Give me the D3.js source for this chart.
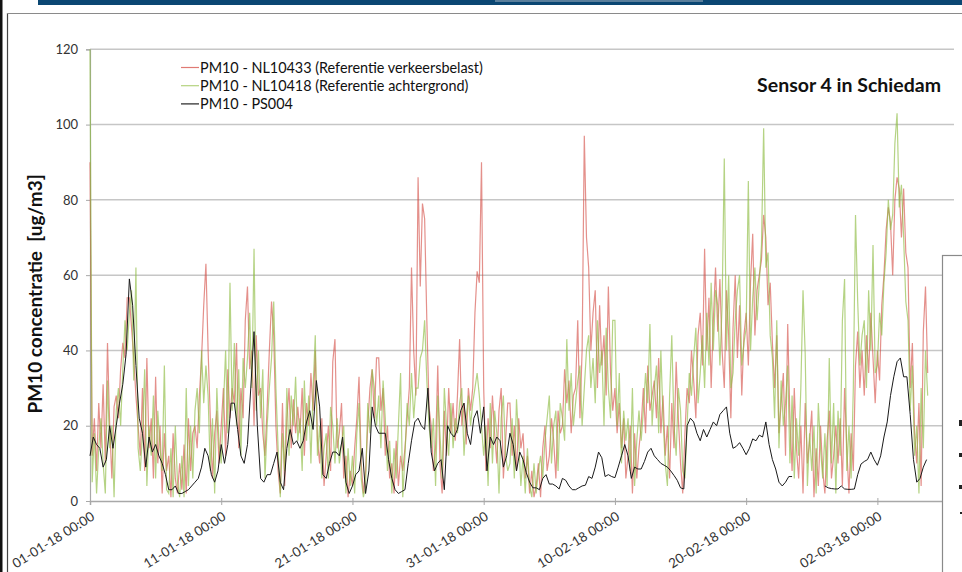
<!DOCTYPE html>
<html><head><meta charset="utf-8">
<script src="https://cdn.jsdelivr.net/npm/d3@7"></script>
<style>body{margin:0;background:#fff;} svg{display:block;}</style>
</head><body><svg id="c" width="962" height="572"></svg>
<script>
const startDate = new Date(2018, 0, 1);
const endDate = new Date(2018, 2, 7);
const refStepHours = 4;
const sensorStepHours = 6;
const tickDays = [0, 10, 20, 30, 40, 50, 60];
const yTicks = [0, 20, 40, 60, 80, 100, 120];
const seriesNames = ["PM10 - NL10433 (Referentie verkeersbelast)", "PM10 - NL10418 (Referentie achtergrond)", "PM10 - PS004"];
const chartTitle = "Sensor 4 in Schiedam";
const yTitle = "PM10 concentratie  [ug/m3]";

// PM10 - NL10433 (4-hourly)
const nl10433 = [
90,12,22,8,26,14, 31,10,42,20,6,25, 28,22,35,42,38,54, 54,46,38,28,20,12,
30,8,38,14,22,6, 33,10,20,2,18,8, 12,1,18,6,2,10, 3,15,2,22,8,18,
20,14,28,38,52,63, 40,22,6,18,24,10, 20,30,12,35,22,30, 26,42,14,30,22,48,
57,35,40,20,44,28, 30,18,12,25,40,53, 44,20,8,2,26,4, 22,30,14,27,18,25,
18,30,12,26,20,34, 24,40,16,10,22,4, 12,20,8,37,43,14, 18,26,6,12,1,8,
4,14,22,33,10,2, 8,20,30,35,22,38, 38,24,30,12,20,6, 10,2,16,4,12,8,
14,22,30,62,40,28, 86,57,79,75,48,25, 20,8,14,36,10,2, 24,12,30,18,26,16,
28,43,20,26,15,30, 24,30,50,61,58,90, 30,8,22,14,28,18, 10,24,30,6,16,26,
26,12,20,8,22,14, 18,6,12,2,8,1, 4,10,1,14,20,8, 12,22,16,6,24,18,
20,35,26,32,18,28, 30,48,22,40,97,70, 62,40,50,56,30,52, 36,44,28,57,34,24,
30,18,26,14,22,6, 12,20,2,18,6,14, 20,30,18,36,24,28, 32,22,38,18,28,12,
20,6,26,14,37,22, 10,2,18,30,26,40, 32,22,44,50,36,67, 40,54,30,48,62,45,
59,40,30,56,44,22, 46,60,38,52,28,44, 50,36,58,71,44,56, 60,64,76,70,52,58,
42,30,44,18,26,34, 12,47,22,8,30,14, 6,20,2,26,10,16, 24,1,14,4,20,8,
2,16,24,6,12,20, 10,22,4,30,14,2, 18,8,36,45,30,40, 28,44,34,50,38,26,
40,32,52,60,72,78, 74,60,80,86,83,70, 83,66,62,30,42,18, 10,26,4,45,57,34
];

// PM10 - NL10418 (4-hourly)
const nl10418 = [
120,5,18,2,14,22, 10,2,32,14,20,1, 24,30,20,35,48,40, 50,56,32,62,14,8,
18,35,4,20,12,28, 6,24,14,8,36,3, 2,14,1,20,5,1, 12,1,30,4,20,6,
24,30,18,40,26,36, 28,8,22,2,30,15, 10,25,40,18,58,24, 42,20,35,12,38,30,
38,50,30,67,24,40, 22,35,6,20,30,38, 53,30,14,1,18,8, 30,12,28,20,33,16,
22,8,32,16,28,10, 30,44,12,20,6,14, 18,6,25,20,10,22, 10,15,20,2,14,4,
12,2,18,26,6,1, 4,26,18,35,30,20, 28,14,32,22,8,16, 2,14,6,20,34,1,
12,26,20,34,22,30, 30,38,40,48,32,20, 14,22,4,28,18,6, 30,20,12,26,14,22,
18,26,30,12,22,28, 20,26,30,34,28,20, 12,20,4,26,10,24, 18,2,22,28,12,8,
10,22,6,27,16,4, 12,2,14,4,1,10, 2,8,12,6,16,22, 28,10,20,24,8,26,
22,16,43,24,34,20, 26,32,36,20,30,40, 44,30,38,26,48,34, 40,20,46,30,22,48,
48,20,34,10,24,16, 22,8,30,4,16,24, 16,24,34,26,47,20, 30,36,18,40,22,10,
4,28,44,20,12,30, 24,8,6,20,34,28, 38,46,26,34,44,30, 50,36,58,40,56,52,
36,52,91,40,60,30, 34,48,56,60,36,42, 46,85,40,54,62,48, 58,68,99,62,66,44,
38,22,48,14,32,20, 26,36,10,28,6,22, 12,30,56,39,4,18, 8,20,2,26,14,6,
18,4,38,10,26,2, 24,12,48,59,8,20, 6,30,76,53,36,44, 48,30,56,40,68,34,
36,50,44,58,66,80, 72,76,95,103,78,84, 70,53,48,24,36,12, 20,2,30,14,40,28
];

// PM10 - PS004 (6-hourly, null = missing)
const ps004 = [
12,17,15,14,9,11,20,14,20,26,31,39,59,52,36,22,
18,9,17,13,15,12,10,7,3,3,4,2,2,2.5,3,4,
5,6,9,14,12,7,5,8,15,10,15,26,26,19,12,10,
15,30,45,20,6,5,7,7,10,13,5,3,14,19,15,16,
14,16,21,24,19,32,25,7,6,10,13,13,12,17,5,2,
4,7,8,14,2,8,25,20,18,18,18,11,6,3,2,2.5,
3,10,16,21,22,20,19,30,13,8,10,11,3,20,18,17,
19,24,26,18,15,22,24,18,25,8,17,15,17,16,9,12,
18,15,8,13,11,7.5,5,3.5,3.5,3,6,7,4.5,4.5,4,3.2,
6,5.5,4,3,3,3.5,4,4.2,6.5,6,9,13,11.5,6.5,7,6.5,
6.2,9,12,15,12,6,9,8.5,8.5,10.5,13,14,12,11,10,9.5,
9,8,6.8,5.5,3.5,3.2,20,22,21,18,16,19,17,19,21,20,
23,24,25,18,14,14.5,15.5,14,12.3,14,16.5,16,17.5,17,21,15,
11,8.5,5,4,5,6.5,6.5,null,null,null,null,null,null,null,null,null,
4,3.5,3.3,3.2,3.2,4,3.2,3.1,3.1,3.2,7,9.8,10.5,11,13,11,
9.5,12,17,21,28,33,37,38,33,33,23,11,5,6,9,11
];

const svg = d3.select("#c");
const FONT = "Lato, 'Open Sans', sans-serif";

// slide frame decorations
svg.append("rect").attr("x", 38).attr("y", 0).attr("width", 924).attr("height", 5).attr("fill", "#0b4773");
svg.append("rect").attr("x", 495).attr("y", 0).attr("width", 208).attr("height", 2).attr("fill", "#5a7f9c");
svg.append("rect").attr("x", 0).attr("y", 0).attr("width", 2.5).attr("height", 572).attr("fill", "#111");
svg.append("line").attr("x1", 7.5).attr("x2", 7.5).attr("y1", 13).attr("y2", 572).attr("stroke", "#444").attr("stroke-width", 1.2);
svg.append("line").attr("x1", 7).attr("x2", 962).attr("y1", 13.5).attr("y2", 13.5).attr("stroke", "#8a8a8a").attr("stroke-width", 1.2);

const x = d3.scaleTime().domain([startDate, endDate]).range([90, 943]);
const y = d3.scaleLinear().domain([0, 120]).range([501, 49.3]);

// gridlines
svg.append("g").selectAll("line").data(yTicks.filter(d => d > 0)).join("line")
  .attr("x1", 90).attr("x2", 954).attr("y1", d => y(d)).attr("y2", d => y(d))
  .attr("stroke", "#c6c6c6").attr("stroke-width", 1.5);

// axes
const yAxis = svg.append("g").attr("transform", "translate(90,0)")
  .call(d3.axisLeft(y).tickValues(yTicks).tickSize(4).tickPadding(8));
yAxis.select(".domain").attr("stroke", "#a8a8a8").attr("stroke-width", 1.2);
yAxis.selectAll(".tick line").attr("stroke", "#a8a8a8");
yAxis.selectAll("text").attr("font-family", FONT).attr("font-size", 13).attr("fill", "#333");

const fmt = d3.timeFormat("%d-%m-%y %H:%M");
const xAxis = svg.append("g").attr("transform", "translate(0,501)")
  .call(d3.axisBottom(x).tickValues(tickDays.map(d => d3.timeDay.offset(startDate, d))).tickSize(4).tickFormat(fmt));
xAxis.select(".domain").attr("stroke", "#a8a8a8").attr("stroke-width", 1.5);
xAxis.selectAll(".tick line").attr("stroke", "#a8a8a8").attr("y1", -3);
xAxis.selectAll("text").attr("font-family", FONT).attr("font-size", 13.3).attr("fill", "#333")
  .attr("text-anchor", "end").attr("x", 0).attr("y", 0).attr("dy", 0)
  .attr("transform", "translate(5,18) rotate(-32)");

// series
const toPts = (arr, step) => arr.map((v, i) => ({ date: d3.timeHour.offset(startDate, i * step), v }));
const line = d3.line().defined(d => d.v != null).x(d => x(d.date)).y(d => y(d.v));

svg.append("path").datum(toPts(nl10433, refStepHours)).attr("d", line)
  .attr("fill", "none").attr("stroke", "#d2463e").attr("stroke-opacity", 0.6).attr("stroke-width", 1.2);
svg.append("path").datum(toPts(nl10418, refStepHours)).attr("d", line)
  .attr("fill", "none").attr("stroke", "#8fbc45").attr("stroke-opacity", 0.66).attr("stroke-width", 1.2);
svg.append("path").datum(toPts(ps004, sensorStepHours)).attr("d", line)
  .attr("fill", "none").attr("stroke", "#1a1a1a").attr("stroke-width", 1);

// legend
const legColors = ["#e07a74", "#b5d37f", "#222"];
const leg = svg.append("g");
seriesNames.forEach((n, i) => {
  const by = 72.5 + i * 18.2;
  leg.append("line").attr("x1", 181).attr("x2", 199).attr("y1", by - 5).attr("y2", by - 5)
    .attr("stroke", legColors[i]).attr("stroke-width", 1.2);
  leg.append("text").attr("x", 200).attr("y", by).text(n)
    .attr("font-family", FONT).attr("font-size", 14.4).attr("fill", "#111");
});

// title
svg.append("text").attr("x", 941).attr("y", 92).attr("text-anchor", "end").text(chartTitle)
  .attr("font-family", FONT).attr("font-weight", "bold").attr("font-size", 19.5).attr("fill", "#111");

// y title
svg.append("text").attr("transform", "translate(42,294) rotate(-90)").attr("text-anchor", "middle")
  .style("white-space", "pre")
  .text(yTitle).attr("font-family", FONT).attr("font-weight", "bold").attr("font-size", 19).attr("fill", "#111");

// overlapping box on right
svg.append("rect").attr("x", 942.5).attr("y", 255.5).attr("width", 40).attr("height", 330)
  .attr("fill", "#fff").attr("stroke", "#8a8a8a").attr("stroke-width", 1.2);
[[959, 420, 3, 6], [959, 453, 3, 4], [959, 485, 3, 4], [960, 512, 2, 2]].forEach(r => {
  svg.append("rect").attr("x", r[0]).attr("y", r[1]).attr("width", r[2]).attr("height", r[3]).attr("fill", "#222");
});
</script>
</body></html>
